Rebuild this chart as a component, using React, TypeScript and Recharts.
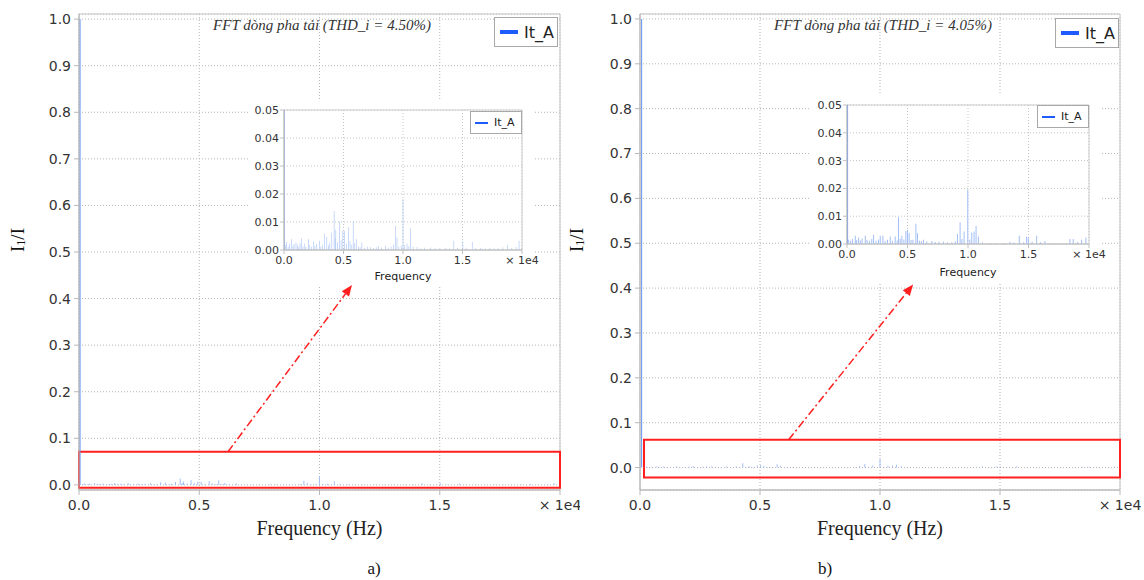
import React from 'react';
import {
  ComposedChart,
  Bar,
  Cell,
  XAxis,
  YAxis,
  CartesianGrid,
  ReferenceArea,
  ReferenceLine,
  Legend,
} from 'recharts';

// ---------- DATA ----------
const seriesName = 'It_A';
const panelLabels = ['a)', 'b)'];
const titles = ['FFT dòng pha tải (THD_i = 4.50%)', 'FFT dòng pha tải (THD_i = 4.05%)'];
const xLabel = 'Frequency (Hz)';
const insetXLabel = 'Frequency';

const xTicks = [0, 5000, 10000, 15000, 20000];
const mainYTicks = [0, 0.1, 0.2, 0.3, 0.4, 0.5, 0.6, 0.7, 0.8, 0.9, 1.0];
const insetYTicks = [0, 0.01, 0.02, 0.03, 0.04, 0.05];

// panel a) spectrum (Hz, I1/I)
const freqA = [
  50, 150, 225, 350, 450, 646, 750, 850, 1011, 1150, 1250, 1350, 1489, 1600, 1750, 1850,
  2051, 2150, 2300, 2472, 2600, 2750, 2978, 3100, 3250, 3400, 3597, 3750, 3850, 4018,
  4215, 4300, 4355, 4500, 4665, 4800, 4946, 5086, 5250, 5423, 5550, 5700, 5817, 5950,
  6070, 6250, 6400, 6547, 6750, 7000, 7250, 7500, 7750, 7952, 8200, 8514, 8750, 9000,
  9200, 9357, 9498, 9650, 9850, 10004, 10150, 10341, 10500, 10622, 10850, 11184, 11500,
  11800, 12308, 12700, 13100, 13572, 13900, 14275, 14600, 15034, 15300, 15821, 16100,
  16524, 16900, 17300, 17648, 18000, 18400, 18772, 19100, 19500, 19755,
];
const ampA = [
  1.0, 0.0018, 0.0029, 0.0012, 0.0022, 0.0039, 0.0015, 0.0021, 0.0027, 0.0019, 0.0012, 0.0024, 0.0041, 0.0013, 0.0022, 0.0011,
  0.0039, 0.0017, 0.0012, 0.003, 0.0014, 0.0021, 0.0033, 0.0012, 0.0018, 0.0059, 0.0047, 0.0016, 0.0025, 0.0062,
  0.0139, 0.0042, 0.0072, 0.0028, 0.0102, 0.0035, 0.0069, 0.0069, 0.0022, 0.0081, 0.0031, 0.0019, 0.0102, 0.0024,
  0.0039, 0.0012, 0.001, 0.0027, 0.0008, 0.0012, 0.0011, 0.0007, 0.001, 0.0015, 0.0009, 0.0015, 0.0008, 0.0012,
  0.002, 0.0087, 0.0045, 0.0012, 0.0016, 0.0182, 0.0018, 0.0023, 0.0014, 0.0078, 0.0012, 0.0011, 0.0006,
  0.0008, 0.0008, 0.0006, 0.0007, 0.0008, 0.0006, 0.0033, 0.0007, 0.003, 0.0008, 0.0029, 0.0006,
  0.0008, 0.0005, 0.0007, 0.0006, 0.0006, 0.0009, 0.0018, 0.0007, 0.0012, 0.0033,
];

// panel b) spectrum (Hz, I1/I)
const freqB = [
  50, 138, 300, 450, 688, 800, 963, 1100, 1250, 1513, 1650, 1850, 2050, 2200, 2400, 2600,
  2750, 2970, 3150, 3350, 3575, 3750, 3988, 4150, 4263, 4400, 4538, 4700, 4868, 5005,
  5143, 5300, 5445, 5693, 5830, 6000, 6150, 6325, 6600, 7013, 7300, 7600, 7975, 8300,
  8663, 8950, 9130, 9350, 9500, 9680, 9983, 10150, 10313, 10505, 10670, 10863, 11200,
  11825, 12400, 13000, 13475, 13800, 14245, 14600, 14850, 14988, 15300, 15675, 16000,
  16363, 16900, 17600, 18100, 18425, 18700, 19050, 19388, 19745,
];
const ampB = [
  1.0, 0.0015, 0.0012, 0.0018, 0.003, 0.0014, 0.0023, 0.0013, 0.002, 0.003, 0.0014, 0.0012, 0.0018, 0.0033, 0.0012, 0.0016,
  0.003, 0.003, 0.0011, 0.0015, 0.0027, 0.0012, 0.0027, 0.0013, 0.0096, 0.0018, 0.003, 0.0016, 0.0047, 0.0051,
  0.0039, 0.0014, 0.0015, 0.0073, 0.0039, 0.0012, 0.001, 0.0015, 0.0009, 0.0011, 0.0007, 0.0008, 0.0008, 0.0006,
  0.0006, 0.001, 0.0036, 0.0078, 0.0018, 0.0045, 0.0194, 0.0016, 0.0041, 0.0045, 0.0065, 0.0027, 0.0005,
  0.0002, 0.0003, 0.0004, 0.0008, 0.0005, 0.003, 0.0006, 0.0027, 0.0023, 0.0008, 0.003, 0.0006,
  0.0011, 0.0003, 0.0002, 0.0004, 0.0018, 0.0018, 0.0007, 0.0015, 0.0023,
];

// zoom box & arrow (data coordinates of the main plots)
const zoomBoxA = { x1: 0, x2: 20000, y1: -0.0064, y2: 0.071 };
const zoomBoxB = { x1: 167, x2: 20000, y1: -0.022, y2: 0.062 };
const arrowA = [{ x: 6195, y: 0.071 }, { x: 11351, y: 0.429 }];
const arrowB = [{ x: 6192, y: 0.062 }, { x: 11381, y: 0.408 }];

const dataA = freqA.map((f, i) => ({ f, v: ampA[i] }));
const dataB = freqB.map((f, i) => ({ f, v: ampB[i] }));

// ---------- STYLE ----------
const SANS = '"DejaVu Sans", Verdana, sans-serif';
const SERIF = '"Liberation Serif", "Times New Roman", serif';
const BAR_COLOR = '#a2bff6';
const FUND_COLOR = '#5f93f3';
const LEGEND_BLUE = '#1f5cff';
const RED = '#ff1f1f';

const xFmt = (v: number) => (v === 20000 ? '× 1e4' : (v / 10000).toFixed(1));

const arrowShape = (p: any) => {
  const { x1, y1, x2, y2 } = p;
  const ang = Math.atan2(y2 - y1, x2 - x1);
  const L = 11;
  const W = 4.5;
  const bx = x2 - L * Math.cos(ang);
  const by = y2 - L * Math.sin(ang);
  const px = -Math.sin(ang) * W;
  const py = Math.cos(ang) * W;
  return (
    <g>
      <line x1={x1} y1={y1} x2={bx} y2={by} stroke={RED} strokeWidth={1.5} strokeDasharray="8 3 2 3" />
      <polygon points={`${x2},${y2} ${bx + px},${by + py} ${bx - px},${by - py}`} fill={RED} />
    </g>
  );
};

const makeLegend = (big: boolean) => (props: any) => {
  const p = props.payload && props.payload[0];
  const name = p ? p.value : seriesName;
  return (
    <div
      style={{
        display: 'flex',
        alignItems: 'center',
        border: '1px solid #a8a8a8',
        background: '#fff',
        boxSizing: 'border-box',
        width: big ? 64 : 52,
        height: big ? 30 : 23,
        padding: big ? '0 0 0 5px' : '0 0 0 4px',
        fontFamily: SANS,
        fontSize: big ? 16 : 11,
        color: '#222',
      }}
    >
      <span
        style={{
          display: 'inline-block',
          width: big ? 18 : 13,
          height: big ? 4 : 2,
          background: LEGEND_BLUE,
          marginRight: 6,
        }}
      />
      <span>{name}</span>
    </div>
  );
};

type MainProps = {
  data: { f: number; v: number }[];
  left: number;
  width: number;
  marginRight: number;
  yAxisWidth: number;
  yDomain: [number, number];
  box: { x1: number; x2: number; y1: number; y2: number };
  arrow: { x: number; y: number }[];
  yLabelX: number;
  legendPos: { left: number; top: number };
};

function MainChart(p: MainProps) {
  const renderYLabel = () => {
    const cx = p.yLabelX;
    const cy = 240;
    return (
      <text
        x={cx}
        y={cy}
        transform={`rotate(-90 ${cx} ${cy})`}
        textAnchor="middle"
        dominantBaseline="central"
        fontFamily={SERIF}
        fontSize={19}
        fill="#111"
      >
        I<tspan fontSize={12} dy={4}>1</tspan>
        <tspan dy={-4}>/I</tspan>
      </text>
    );
  };
  const renderXLabel = (lp: any) => {
    const vb = lp.viewBox || {};
    return (
      <text
        x={vb.x + vb.width / 2}
        y={vb.y + 45}
        textAnchor="middle"
        fontFamily={SERIF}
        fontSize={20}
        fill="#222"
      >
        {xLabel}
      </text>
    );
  };
  return (
    <div style={{ position: 'absolute', left: p.left, top: 0 }}>
      <ComposedChart
        width={p.width}
        height={580}
        data={p.data}
        margin={{ top: 14, right: p.marginRight, left: 0, bottom: 40 }}
      >
        <CartesianGrid stroke="#b5b5b5" strokeDasharray="1 2" />
        <XAxis
          dataKey="f"
          type="number"
          domain={[0, 20000]}
          ticks={xTicks}
          interval={0}
          allowDataOverflow
          tickFormatter={xFmt}
          height={50}
          tickSize={5}
          tickMargin={5}
          stroke="#b8b8b8"
          tick={{ fill: '#333', fontSize: 14, fontFamily: SANS }}
          label={renderXLabel}
        />
        <YAxis
          type="number"
          domain={p.yDomain}
          ticks={mainYTicks}
          interval={0}
          allowDataOverflow
          width={p.yAxisWidth}
          tickFormatter={(v: number) => v.toFixed(1)}
          tickSize={5}
          tickMargin={3}
          stroke="#b8b8b8"
          tick={{ fill: '#333', fontSize: 14, fontFamily: SANS }}
          label={renderYLabel}
        />
        <ReferenceArea
          x1={0}
          x2={20000}
          y1={p.yDomain[0]}
          y2={p.yDomain[1]}
          fill="none"
          stroke="#c4c4c4"
          strokeWidth={1}
          ifOverflow="visible"
        />
        <Bar dataKey="v" name={seriesName} fill={BAR_COLOR} barSize={1} isAnimationActive={false}>
          {p.data.map((d, i) => (
            <Cell key={i} fill={d.v > 0.5 ? FUND_COLOR : BAR_COLOR} />
          ))}
        </Bar>
        <ReferenceArea
          x1={p.box.x1}
          x2={p.box.x2}
          y1={p.box.y1}
          y2={p.box.y2}
          fill="none"
          stroke={RED}
          strokeWidth={2}
          ifOverflow="visible"
        />
        <ReferenceLine segment={p.arrow} ifOverflow="visible" shape={arrowShape} />
        <Legend
          layout="horizontal"
          verticalAlign="middle"
          align="center"
          content={makeLegend(true)}
          wrapperStyle={{ left: p.legendPos.left, top: p.legendPos.top, width: 'auto', height: 'auto' }}
        />
      </ComposedChart>
    </div>
  );
}

type InsetProps = {
  data: { f: number; v: number }[];
  left: number;
  top: number;
  width: number;
  height: number;
  margin: { top: number; right: number; left: number; bottom: number };
  yAxisWidth: number;
  xAxisHeight: number;
  labelDy: number;
  legendPos: { left: number; top: number };
};

function InsetChart(p: InsetProps) {
  const renderXLabel = (lp: any) => {
    const vb = lp.viewBox || {};
    return (
      <text
        x={vb.x + vb.width / 2}
        y={vb.y + p.labelDy}
        textAnchor="middle"
        fontFamily={SANS}
        fontSize={11}
        fill="#222"
      >
        {insetXLabel}
      </text>
    );
  };
  return (
    <div
      className="inset"
      style={{
        position: 'absolute',
        left: p.left,
        top: p.top,
        width: p.width,
        height: p.height,
        background: '#fff',
      }}
    >
      <ComposedChart width={p.width} height={p.height} data={p.data} margin={p.margin}>
        <CartesianGrid stroke="#c4c4c4" strokeDasharray="1 2" />
        <XAxis
          dataKey="f"
          type="number"
          domain={[0, 20000]}
          ticks={xTicks}
          interval={0}
          allowDataOverflow
          tickFormatter={xFmt}
          height={p.xAxisHeight}
          tickSize={4}
          tickMargin={2}
          stroke="#c0c0c0"
          tick={{ fill: '#333', fontSize: 11, fontFamily: SANS }}
          label={renderXLabel}
        />
        <YAxis
          type="number"
          domain={[0, 0.05]}
          ticks={insetYTicks}
          interval={0}
          allowDataOverflow
          width={p.yAxisWidth}
          tickFormatter={(v: number) => v.toFixed(2)}
          tickSize={4}
          tickMargin={1}
          stroke="#c0c0c0"
          tick={{ fill: '#333', fontSize: 11, fontFamily: SANS }}
        />
        <ReferenceArea
          x1={0}
          x2={20000}
          y1={0}
          y2={0.05}
          fill="none"
          stroke="#cccccc"
          ifOverflow="visible"
        />
        <Bar dataKey="v" name={seriesName} fill={BAR_COLOR} barSize={1} isAnimationActive={false}>
          {p.data.map((d, i) => (
            <Cell key={i} fill={d.v > 0.5 ? FUND_COLOR : BAR_COLOR} />
          ))}
        </Bar>
        <Legend
          layout="horizontal"
          verticalAlign="middle"
          align="center"
          content={makeLegend(false)}
          wrapperStyle={{ left: p.legendPos.left, top: p.legendPos.top, width: 'auto', height: 'auto' }}
        />
      </ComposedChart>
    </div>
  );
}

const titleStyle = (cx: number): React.CSSProperties => ({
  position: 'absolute',
  left: cx - 170,
  width: 340,
  top: 17,
  textAlign: 'center',
  fontFamily: SERIF,
  fontStyle: 'italic',
  fontSize: 15,
  color: '#333',
  whiteSpace: 'nowrap',
});

const subLabelStyle = (cx: number): React.CSSProperties => ({
  position: 'absolute',
  left: cx - 30,
  width: 60,
  top: 559,
  textAlign: 'center',
  fontFamily: SERIF,
  fontSize: 17,
  color: '#111',
});

export default function App() {
  return (
    <div
      style={{
        position: 'absolute',
        left: 0,
        top: 0,
        width: 1144,
        height: 580,
        background: '#fff',
        overflow: 'hidden',
      }}
    >
      <style>{`.inset svg { overflow: visible; }`}</style>
      <MainChart
        data={dataA}
        left={0}
        width={580}
        marginRight={20}
        yAxisWidth={79}
        yDomain={[-0.011, 1.011]}
        box={zoomBoxA}
        arrow={arrowA}
        yLabelX={17}
        legendPos={{ left: 494, top: 17 }}
      />
      <MainChart
        data={dataB}
        left={560}
        width={584}
        marginRight={24}
        yAxisWidth={80}
        yDomain={[-0.05, 1.011]}
        box={zoomBoxB}
        arrow={arrowB}
        yLabelX={16}
        legendPos={{ left: 495, top: 18 }}
      />
      <div style={titleStyle(322)}>{titles[0]}</div>
      <div style={titleStyle(883)}>{titles[1]}</div>
      <InsetChart
        data={dataA}
        left={250}
        top={100}
        width={285}
        height={185}
        margin={{ top: 10, right: 13, left: 0, bottom: 0 }}
        yAxisWidth={34}
        xAxisHeight={35}
        labelDy={30}
        legendPos={{ left: 220, top: 11 }}
      />
      <InsetChart
        data={dataB}
        left={810}
        top={94}
        width={290}
        height={188}
        margin={{ top: 11, right: 11, left: 0, bottom: 0 }}
        yAxisWidth={37}
        xAxisHeight={38}
        labelDy={32}
        legendPos={{ left: 227, top: 11 }}
      />
      <div style={subLabelStyle(374)}>{panelLabels[0]}</div>
      <div style={subLabelStyle(825)}>{panelLabels[1]}</div>
    </div>
  );
}
